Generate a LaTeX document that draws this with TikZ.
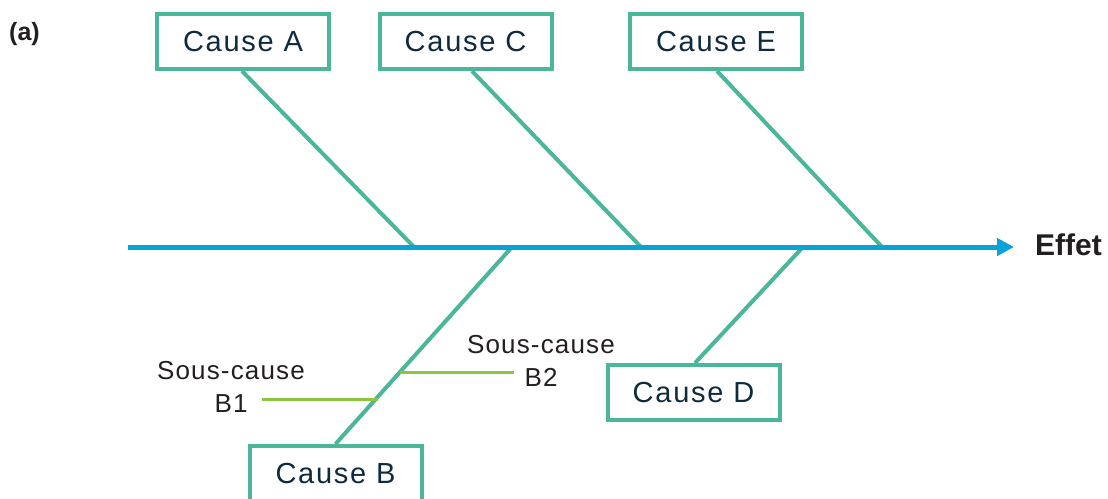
\documentclass[tikz,border=0pt]{standalone}
\usepackage{fontspec}
\setmainfont{Liberation Sans}
\usetikzlibrary{arrows.meta}
\definecolor{teal1}{HTML}{4AB69A}
\definecolor{spineblue}{HTML}{06A3DB}
\definecolor{subgreen}{HTML}{8CC63F}
\definecolor{navy}{HTML}{0E2A3D}
\definecolor{dgray}{HTML}{231F20}
\begin{document}
\begin{tikzpicture}[x=1pt,y=-1pt,
  causebox/.style={draw=teal1,line width=4pt,fill=white,minimum width=172pt,minimum height=55pt,inner sep=0pt,text=navy,font=\fontsize{29}{32}\selectfont\addfontfeature{LetterSpace=6}},
  bone/.style={draw=teal1,line width=4pt},
  subline/.style={draw=subgreen,line width=3pt},
  sublabel/.style={align=center,text=dgray,font=\fontsize{26}{33}\selectfont\addfontfeature{LetterSpace=4.5},inner sep=0pt}]
\useasboundingbox (0,0) rectangle (1108,498);
% spine
\coordinate (s0) at (128,247);
\coordinate (s1) at (1014,247);
\coordinate (jA) at (414,247);
\coordinate (jC) at (641,247);
\coordinate (jE) at (882,247);
\coordinate (jB) at (512,247);
\coordinate (jD) at (803,247);
% boxes
\node[causebox] (A) at (243,41.5) {Cause A};
\node[causebox] (C) at (465.5,41.5) {Cause C};
\node[causebox] (E) at (716,41.5) {Cause E};
\node[causebox] (B) at (335.5,473.5) {Cause B};
\node[causebox] (D) at (693.5,392.5) {Cause D};
% bones
\draw[bone] ([xshift=-1pt]A.south) -- (jA);
\draw[bone] ([xshift=6.5pt]C.south) -- (jC);
\draw[bone] ([xshift=1pt]E.south) -- (jE);
\draw[bone] (B.north) -- (jB);
\draw[bone] ([xshift=1.5pt]D.north) -- (jD);
\draw[spineblue,line width=5pt,-{Triangle[length=17pt,width=17pt]}] (s0) -- (s1);
% sub-causes
\coordinate (b1a) at (378,399);
\coordinate (b1b) at (262,399);
\coordinate (b2a) at (400,372);
\coordinate (b2b) at (514,372);
\draw[subline] (b1a) -- (b1b);
\draw[subline] (b2a) -- (b2b);
\node[sublabel] (L1) at (231,387) {Sous-cause\\B1};
\node[sublabel] (L2) at (541,361) {Sous-cause\\B2};
% labels
\node[font=\bfseries\fontsize{30}{32}\selectfont,text=dgray,anchor=west,inner sep=0pt] (eff) at (1035,245) {Effet};
\node[font=\bfseries\fontsize{25}{28}\selectfont,text=dgray,anchor=west,inner sep=0pt] (lab) at (9,34) {(a)};
\end{tikzpicture}
\end{document}
